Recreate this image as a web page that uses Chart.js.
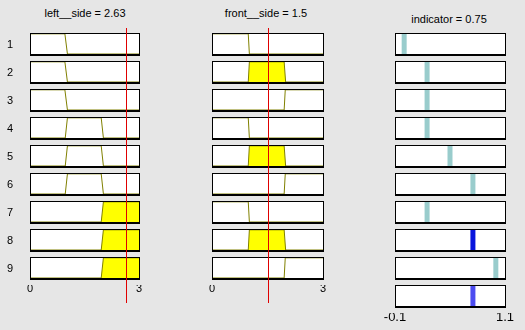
<!DOCTYPE html>
<html>
<head>
<meta charset="utf-8">
<script src="https://cdn.jsdelivr.net/npm/chart.js@4/dist/chart.umd.min.js"></script>
<style>
  body { margin: 0; background: #e6e6e6; width: 525px; height: 330px; overflow: hidden;
         font-family: "Liberation Sans", Arial, sans-serif; }
  canvas { position: absolute; }
  .title { position: absolute; font-size: 11px; line-height: 13px; text-align: center; white-space: nowrap; }
</style>
</head>
<body>
<div class="title" style="left:0;width:170px;top:7px">left__side = 2.63</div>
<div class="title" style="left:186px;width:160px;top:7px">front__side = 1.5</div>
<div class="title" style="left:369px;width:160px;top:13px">indicator = 0.75</div>
<canvas id="leftCol" width="150" height="287" style="left:0;top:23px"></canvas>
<canvas id="frontCol" width="160" height="287" style="left:180px;top:23px"></canvas>
<canvas id="outCol" width="170" height="307" style="left:355px;top:23px"></canvas>
<script>
// input values
const leftValue = 2.63;
const frontValue = 1.5;
const indicatorValue = 0.75;

const inputRange = [0, 3];
const outputRange = [-0.1, 1.1];

// membership functions of left__side (x breakpoints, y levels)
const leftLowX = [0, 0.96, 1.03, 3];
const leftLowY = [1, 1, 0, 0];
const leftMedX = [0, 0.97, 1.03, 1.96, 2.02, 3];
const leftMedY = [0, 0, 1, 1, 0, 0];
const leftHighX = [0, 1.96, 2.02, 3];
const leftHighY = [0, 0, 1, 1];

// membership functions of front__side
const frontLowX = [0, 0.98, 1.01, 3];
const frontLowY = [1, 1, 0, 0];
const frontMedX = [0, 0.98, 1.01, 1.95, 1.99, 3];
const frontMedY = [0, 0, 1, 1, 0, 0];
const frontHighX = [0, 1.95, 1.98, 3];
const frontHighY = [0, 0, 1, 1];

// rules: which mf of each input, and the output constant
const ruleLeft = [1, 1, 1, 2, 2, 2, 3, 3, 3];
const ruleFront = [1, 2, 3, 1, 2, 3, 1, 2, 3];
const ruleOutput = [0, 0.25, 0.25, 0.25, 0.5, 0.75, 0.25, 0.75, 1.0];

const leftMfs = [[leftLowX, leftLowY], [leftMedX, leftMedY], [leftHighX, leftHighY]];
const frontMfs = [[frontLowX, frontLowY], [frontMedX, frontMedY], [frontHighX, frontHighY]];

Chart.defaults.font.family = '"Liberation Sans", Arial, sans-serif';
Chart.defaults.font.size = 11;
Chart.defaults.color = '#000';

const yTop = 1.04;
const gapRatio = 7 / 21;

function mfPoints(xs, ys) {
  return xs.map((x, i) => ({ x: x, y: ys[i] }));
}

function mfValue(xs, ys, v) {
  for (let i = 0; i < xs.length - 1; i++) {
    if (v >= xs[i] && v <= xs[i + 1]) {
      const t = (v - xs[i]) / (xs[i + 1] - xs[i]);
      return ys[i] + t * (ys[i + 1] - ys[i]);
    }
  }
  return 0;
}

function makeScales(rows, range, tickPad, axisHeight, fontSize) {
  const scales = {
    x: {
      type: 'linear', position: 'bottom', min: range[0], max: range[1],
      grid: { display: false, drawTicks: false },
      border: { display: false },
      ticks: { padding: tickPad, maxRotation: 0, autoSkip: false, font: { size: fontSize },
               callback: v => String(v) },
      afterBuildTicks: s => { s.ticks = [{ value: range[0] }, { value: range[1] }]; },
      afterFit: s => { s.height = axisHeight; }
    }
  };
  for (let i = 0; i < rows; i++) {
    scales['y' + i] = {
      type: 'linear', axis: 'y', position: 'right', stack: 'rows', stackWeight: 1,
      min: -yTop * gapRatio, max: yTop, display: false
    };
  }
  return scales;
}

// white boxes with black frame, red input line, row numbers
function framePlugin(rows, redValue, rowLabels) {
  return {
    id: 'frames',
    beforeDatasetsDraw(chart) {
      const ctx = chart.ctx, xs = chart.scales.x;
      ctx.save();
      ctx.fillStyle = '#fff';
      for (let i = 0; i < rows; i++) {
        const s = chart.scales['y' + i];
        const T = Math.round(s.getPixelForValue(yTop)), B = Math.round(s.getPixelForValue(0));
        ctx.fillRect(Math.round(xs.left), T, Math.round(xs.right) - Math.round(xs.left), B - T);
      }
      ctx.restore();
    },
    afterDatasetsDraw(chart) {
      const ctx = chart.ctx, xs = chart.scales.x;
      const L = Math.round(xs.left), R = Math.round(xs.right);
      ctx.save();
      ctx.strokeStyle = '#000';
      ctx.fillStyle = '#000';
      ctx.lineWidth = 1;
      for (let i = 0; i < rows; i++) {
        const s = chart.scales['y' + i];
        const T = Math.round(s.getPixelForValue(yTop)), B = Math.round(s.getPixelForValue(0));
        ctx.strokeRect(L + 0.5, T + 0.5, R - L, B - T);
        ctx.fillRect(L, B, R - L + 1, 2);
        if (rowLabels) {
          ctx.font = '11px "Liberation Sans", Arial, sans-serif';
          ctx.textAlign = 'center';
          ctx.textBaseline = 'middle';
          ctx.fillText(String(i + 1), 10, (T + B) / 2 + 1);
        }
      }
      if (redValue !== null) {
        const px = Math.round(xs.getPixelForValue(redValue)) + 0.5;
        ctx.strokeStyle = '#e00000';
        ctx.beginPath();
        ctx.moveTo(px, chart.chartArea.top - 5);
        ctx.lineTo(px, chart.chartArea.bottom + 18);
        ctx.stroke();
      }
      ctx.restore();
    }
  };
}

function inputDatasets(mfs, rule, value) {
  return rule.map((m, i) => {
    const mf = mfs[m - 1];
    const fired = mfValue(mf[0], mf[1], value) > 0;
    return {
      data: mfPoints(mf[0], mf[1]),
      yAxisID: 'y' + i,
      borderColor: '#808000',
      borderWidth: 1,
      pointRadius: 0,
      tension: 0,
      fill: fired ? 'origin' : false,
      backgroundColor: '#ffff00'
    };
  });
}

function inputChart(id, mfs, rule, value, padL, padR, labels) {
  return new Chart(document.getElementById(id), {
    type: 'line',
    data: { datasets: inputDatasets(mfs, rule, value) },
    options: {
      responsive: false, animation: false,
      layout: { padding: { left: padL, right: padR, top: 10, bottom: 5 } },
      plugins: { legend: { display: false }, tooltip: { enabled: false } },
      scales: makeScales(rule.length, inputRange, -3, 20, 11)
    },
    plugins: [framePlugin(rule.length, value, labels)]
  });
}

inputChart('leftCol', leftMfs, ruleLeft, leftValue, 30, 11, true);
inputChart('frontCol', frontMfs, ruleFront, frontValue, 32, 17, false);

// output column: one bar per rule plus the aggregated result
const firing = ruleOutput.map((o, i) => {
  const lm = leftMfs[ruleLeft[i] - 1], fm = frontMfs[ruleFront[i] - 1];
  return Math.min(mfValue(lm[0], lm[1], leftValue), mfValue(fm[0], fm[1], frontValue));
});
const outDatasets = ruleOutput.map((o, i) => ({
  data: [{ x: o, y: 0 }, { x: o, y: yTop }],
  yAxisID: 'y' + i,
  borderColor: firing[i] > 0 ? '#0814dc' : '#99cccc',
  borderWidth: 5, borderCapStyle: 'butt', pointRadius: 0
}));
outDatasets.push({
  data: [{ x: indicatorValue, y: 0 }, { x: indicatorValue, y: yTop }],
  yAxisID: 'y' + ruleOutput.length,
  borderColor: '#4c4cf0',
  borderWidth: 5, borderCapStyle: 'butt', pointRadius: 0
});

new Chart(document.getElementById('outCol'), {
  type: 'line',
  data: { datasets: outDatasets },
  options: {
    responsive: false, animation: false,
    layout: { padding: { left: 40, right: 20, top: 10, bottom: 0 } },
    plugins: { legend: { display: false }, tooltip: { enabled: false } },
    scales: makeScales(ruleOutput.length + 1, outputRange, -3, 17, 13)
  },
  plugins: [framePlugin(ruleOutput.length + 1, null, false)]
});
</script>
</body>
</html>
